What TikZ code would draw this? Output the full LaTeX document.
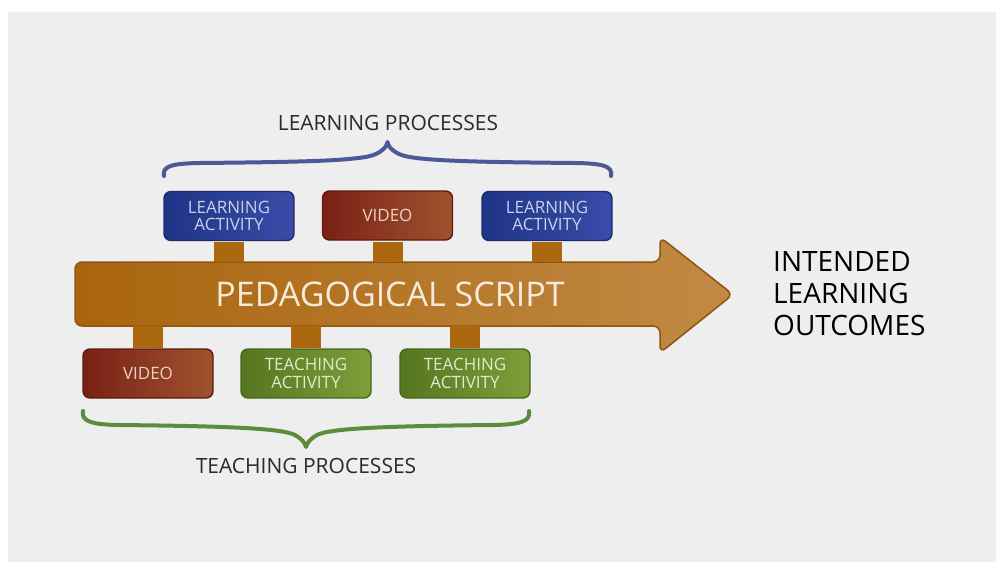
\documentclass[tikz,border=0pt]{standalone}
\usepackage{fontspec}
\setmainfont{Open Sans}
\definecolor{bgc}{HTML}{EEEEEE}
\definecolor{arrL}{HTML}{A9650D}
\definecolor{arrR}{HTML}{C18A45}
\definecolor{arrD}{HTML}{8E5412}
\definecolor{stemc}{HTML}{AC680F}
\definecolor{bluL}{HTML}{1F3485}
\definecolor{bluR}{HTML}{3A4CA8}
\definecolor{bluD}{HTML}{1A2A6C}
\definecolor{redL}{HTML}{7A2016}
\definecolor{redR}{HTML}{A0532E}
\definecolor{redD}{HTML}{5C1A10}
\definecolor{grnL}{HTML}{557620}
\definecolor{grnR}{HTML}{7E9E3A}
\definecolor{grnD}{HTML}{48671B}
\definecolor{bracB}{HTML}{4C5898}
\definecolor{bracG}{HTML}{5D8C3D}
\definecolor{txtc}{HTML}{2A2A2A}
\definecolor{btxB}{HTML}{C9D0EE}
\definecolor{btxR}{HTML}{EAD2C8}
\definecolor{btxG}{HTML}{E2EACB}
\definecolor{stxt}{HTML}{F6EBDA}
\begin{document}
\begin{tikzpicture}[x=1pt,y=-1pt,
  box/.style={rectangle, rounded corners=7pt, line width=1.4pt, minimum width=130pt, minimum height=49pt,
    align=center, inner sep=0pt, font=\fontsize{17}{17.5}\selectfont},
  bluebox/.style={box, left color=bluL, right color=bluR, draw=bluD, text=btxB},
  redbox/.style={box, left color=redL, right color=redR, draw=redD, text=btxR},
  greenbox/.style={box, left color=grnL, right color=grnR, draw=grnD, text=btxG},
  stem/.style={line width=30pt, stemc},
  brace/.style={line width=4pt, line cap=round, line join=round},
  label/.style={text=txtc, inner sep=0pt, font=\fontsize{21}{24}\selectfont}
]
\useasboundingbox (0,0) rectangle (996,565);
\fill[white] (0,0) rectangle (996,565);
\fill[bgc] (8,12) rectangle (996,562);

% main arrow
\path[left color=arrL, right color=arrR, draw=arrD, line width=1.5pt, rounded corners=7pt]
  (75,262) -- (660,262) -- (660,237) -- (733,294.5) -- (660,353) -- (660,326) -- (75,326) -- cycle;
\node[inner sep=0pt, minimum width=585pt, minimum height=64pt] (script) at (367.5,294) {};
\node[text=stxt, inner sep=0pt, font=\fontsize{34}{36}\selectfont] (scripttxt) at (390,294) {PEDAGOGICAL SCRIPT};

% top boxes
\node[bluebox] (la1) at (229,216) {LEARNING\\ACTIVITY};
\node[redbox]  (v1)  at (387.5,215.5) {VIDEO};
\node[bluebox] (la2) at (547,216) {LEARNING\\ACTIVITY};
% bottom boxes
\node[redbox]   (v2)  at (148,373.5) {VIDEO};
\node[greenbox] (ta1) at (306,373.5) {TEACHING\\ACTIVITY};
\node[greenbox] (ta2) at (465,373.5) {TEACHING\\ACTIVITY};

% stems
\draw[stem] ([yshift=-0.8pt]la1.south) -- (la1.south |- script.north);
\draw[stem] ([yshift=-0.8pt]v1.south) -- (v1.south |- script.north);
\draw[stem] ([yshift=-0.8pt]la2.south) -- (la2.south |- script.north);
\draw[stem] ([yshift=0.8pt]v2.north) -- (v2.north |- script.south);
\draw[stem] ([yshift=0.8pt]ta1.north) -- (ta1.north |- script.south);
\draw[stem] ([yshift=0.8pt]ta2.north) -- (ta2.north |- script.south);

% braces
\draw[brace, bracB] (164,176) .. controls (162,166) and (172,163.5) .. (200,163)
  .. controls (300,162) and (362,161) .. (376,154) .. controls (384,150) and (387,146) .. (387.5,142)
  .. controls (388,146) and (391,150) .. (399,154) .. controls (413,161) and (475,162) .. (575,163)
  .. controls (603,163.5) and (613,166) .. (611,176);
\draw[brace, bracG] (83,411) .. controls (81,421) and (91,424.5) .. (118,425)
  .. controls (220,426) and (282,428) .. (295,435) .. controls (302,439) and (305,443) .. (306,447)
  .. controls (307,443) and (310,439) .. (317,435) .. controls (330,428) and (392,426) .. (494,425)
  .. controls (521,424.5) and (531,421) .. (529,411);

\node[label] (lp) at (388,122.5) {LEARNING PROCESSES};
\node[label] (tp) at (306,465.5) {TEACHING PROCESSES};
\node[text=black, inner sep=0pt, anchor=west, align=left, font=\fontsize{28}{32}\selectfont] (ilo) at (773,294) {INTENDED\\LEARNING\\OUTCOMES};
\end{tikzpicture}
\end{document}
